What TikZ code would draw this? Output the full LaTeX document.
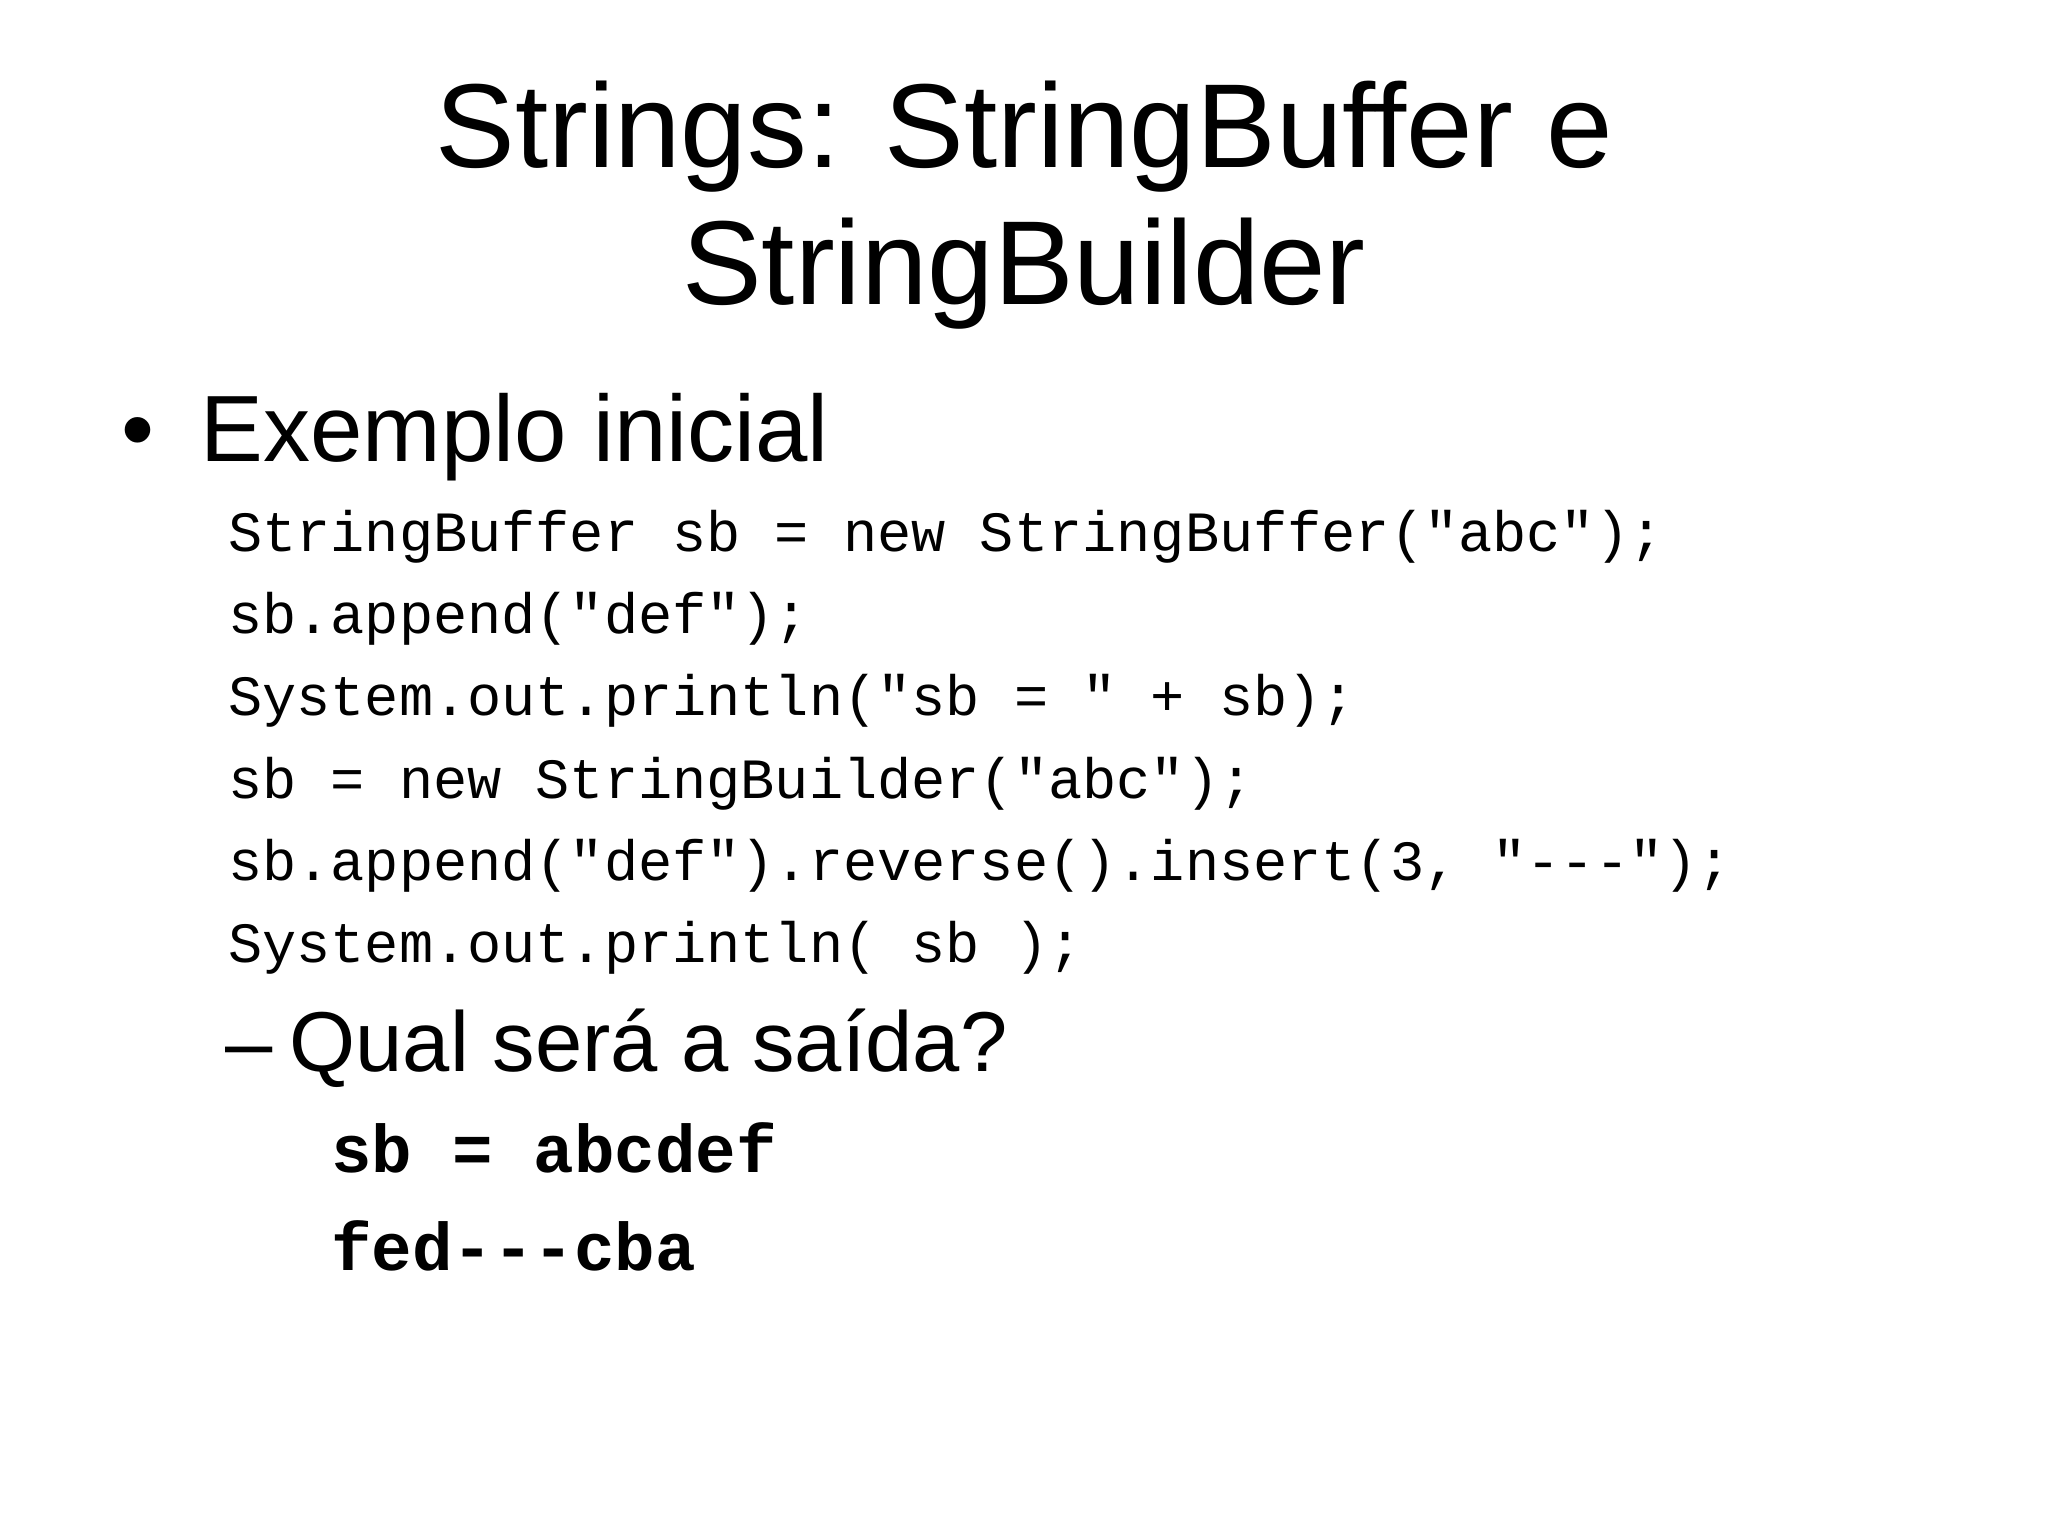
\documentclass[tikz,border=0pt]{standalone}
\usepackage{fontspec}
\setmainfont{Liberation Sans}
\newfontfamily\codefont{Liberation Mono}
\begin{document}
\begin{tikzpicture}[x=0.01cm,y=-0.01cm,
  title/.style={anchor=base,inner sep=0,font=\fontsize{26}{30}\selectfont},
  lvlone/.style={anchor=base west,inner sep=0,font=\fontsize{20.5}{24}\selectfont},
  lvltwo/.style={anchor=base west,inner sep=0,font=\fontsize{18.5}{22}\selectfont},
  code/.style={anchor=base west,inner sep=0,font=\codefont\fontsize{12.4}{15}\selectfont},
  outtext/.style={anchor=base west,inner sep=0,font=\codefont\bfseries\fontsize{14.7}{17}\selectfont}]
\useasboundingbox (0,0) rectangle (1568,1176);
\node[title] (t1) at (784,128) {Strings: StringBuffer e};
\node[title] (t2) at (784,233) {StringBuilder};
\node[lvlone] (b1) at (92,353) {•};
\node[lvlone] (e1) at (153,353) {Exemplo inicial};
\node[code] (c1) at (174,422) {StringBuffer sb = new StringBuffer("abc");};
\node[code] (c2) at (174,485) {sb.append("def");};
\node[code] (c3) at (174,548) {System.out.println("sb = " + sb);};
\node[code] (c4) at (174,611) {sb = new StringBuilder("abc");};
\node[code] (c5) at (174,674) {sb.append("def").reverse().insert(3, "---");};
\node[code] (c6) at (174,737) {System.out.println( sb );};
\node[lvltwo] (d1) at (172,820) {–};
\node[lvltwo] (q1) at (221,820) {Qual será a saída?};
\node[outtext] (o1) at (253,898) {sb = abcdef};
\node[outtext] (o2) at (253,973) {fed---cba};
\end{tikzpicture}
\end{document}
